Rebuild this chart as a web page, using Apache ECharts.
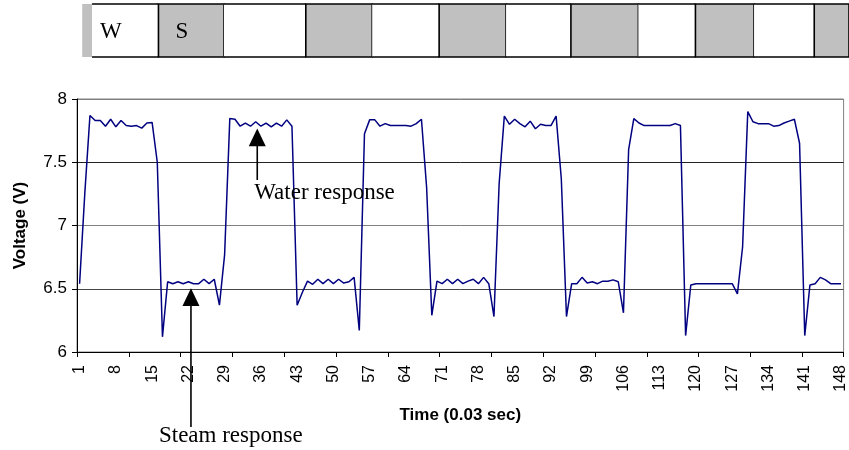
<!DOCTYPE html>
<html>
<head>
<meta charset="utf-8">
<script src="https://cdn.jsdelivr.net/npm/echarts@6/dist/echarts.min.js"></script>
<style>
html,body{margin:0;padding:0;background:#fff;}
#c{width:849px;height:450px;}
</style>
</head>
<body>
<div id="c"></div>
<script>
// ---- data ----
const categories = [];
for (let i = 1; i <= 148; i++) categories.push(String(i));

const voltage = [
  6.54, 7.25, 7.87, 7.83, 7.83, 7.785, 7.84, 7.78, 7.83, 7.79,
  7.785, 7.79, 7.77, 7.81, 7.815, 7.50, 6.12, 6.555, 6.54, 6.555,
  6.54, 6.555, 6.54, 6.54, 6.575, 6.54, 6.575, 6.37, 6.77, 7.845,
  7.84, 7.785, 7.81, 7.785, 7.82, 7.785, 7.81, 7.78, 7.81, 7.785,
  7.835, 7.785, 6.37, 6.47, 6.56, 6.535, 6.575, 6.54, 6.575, 6.54,
  6.575, 6.545, 6.555, 6.59, 6.17, 7.725, 7.835, 7.835, 7.785, 7.805,
  7.79, 7.79, 7.79, 7.79, 7.785, 7.805, 7.84, 7.30, 6.29, 6.56,
  6.54, 6.575, 6.54, 6.575, 6.54, 6.56, 6.575, 6.54, 6.59, 6.54,
  6.28, 7.33, 7.865, 7.80, 7.84, 7.805, 7.78, 7.825, 7.765, 7.80,
  7.79, 7.79, 7.865, 7.37, 6.28, 6.54, 6.54, 6.59, 6.545, 6.555,
  6.54, 6.56, 6.56, 6.57, 6.555, 6.31, 7.60, 7.845, 7.81, 7.79,
  7.79, 7.79, 7.79, 7.79, 7.79, 7.805, 7.79, 6.13, 6.53, 6.54,
  6.54, 6.54, 6.54, 6.54, 6.54, 6.54, 6.54, 6.46, 6.83, 7.90,
  7.82, 7.805, 7.805, 7.805, 7.785, 7.79, 7.81, 7.825, 7.84, 7.65,
  6.13, 6.53, 6.54, 6.59, 6.57, 6.54, 6.54, 6.54
];

const yTicks = { min: 6, max: 8, interval: 0.5 };

// top strip: W = water, S = steam (edges in time-sample units)
const stripEdges = [1.0, 2.9, 15.7, 28.3, 44.1, 56.9, 69.8, 82.7, 95.2, 108.2, 119.2, 130.5, 142.1, 148.8];
const stripStates = ['S','W','S','W','S','W','S','W','S','W','S','W','S'];
const stripLabels = ['', 'W', 'S', '', '', '', '', '', '', '', '', '', ''];

// annotations: [category position (0-based index), arrow tip value, head base value, shaft end value, text value]
const waterNote = { text: 'Water response', idx: 34.3, tip: 7.767, base: 7.627, end: 7.36, textV: 7.256 };
const steamNote = { text: 'Steam response', idx: 21.5, tip: 6.503, base: 6.363, end: 5.408, textV: 5.337 };

// ---- chart ----
const stripData = stripStates.map((s, i) => [stripEdges[i], stripEdges[i + 1], i]);

const chart = echarts.init(document.getElementById('c'), null, { renderer: 'canvas' });

const option = {
  animation: false,
  backgroundColor: '#fff',
  grid: [
    { left: 77, right: 4, top: 99, bottom: 98, show: true, borderColor: '#808080', borderWidth: 1, backgroundColor: 'transparent' },
    { left: 77, right: 0, top: 4, height: 53, show: false }
  ],
  xAxis: [
    {
      gridIndex: 0,
      type: 'category',
      data: categories,
      boundaryGap: true,
      name: 'Time (0.03 sec)',
      nameLocation: 'middle',
      nameGap: 55,
      nameTextStyle: { fontFamily: 'Liberation Sans', fontWeight: 'bold', fontSize: 17, color: '#000' },
      axisLine: { lineStyle: { color: '#000', width: 1 } },
      axisTick: { show: true, interval: 9, length: 5, lineStyle: { color: '#000' } },
      axisLabel: { interval: 6, rotate: 90, margin: 13, fontFamily: 'Liberation Sans', fontSize: 16, color: '#000' },
      splitLine: { show: false }
    },
    { gridIndex: 1, type: 'value', min: 0, max: 148.8, show: false }
  ],
  yAxis: [
    {
      gridIndex: 0,
      type: 'value',
      min: yTicks.min, max: yTicks.max, interval: yTicks.interval,
      name: 'Voltage (V)',
      nameLocation: 'middle',
      nameGap: 48,
      nameTextStyle: { fontFamily: 'Liberation Sans', fontWeight: 'bold', fontSize: 17, color: '#000' },
      axisLine: { show: true, lineStyle: { color: '#000', width: 1 } },
      axisTick: { show: true, length: 5, lineStyle: { color: '#000' } },
      axisLabel: { margin: 10, fontFamily: 'Liberation Sans', fontSize: 17, color: '#000' },
      splitLine: { show: true, lineStyle: { color: ['#000', '#444', '#808080', '#222', '#808080'], width: 1 } }
    },
    { gridIndex: 1, type: 'value', min: 0, max: 1, show: false }
  ],
  series: [
    {
      type: 'line',
      xAxisIndex: 0, yAxisIndex: 0,
      data: voltage,
      symbol: 'none',
      lineStyle: { color: '#000080', width: 1.5 },
      z: 5
    },
    {
      type: 'custom',
      xAxisIndex: 1, yAxisIndex: 1,
      data: stripData,
      renderItem: function (params, api) {
        const i = api.value(2);
        const p0 = api.coord([api.value(0), 1]);
        const p1 = api.coord([api.value(1), 0]);
        const x0 = p0[0], y0 = p0[1], x1 = p1[0], y1 = p1[1];
        const steam = stripStates[i] === 'S';
        const children = [{
          type: 'rect',
          shape: { x: x0, y: y0, width: x1 - x0, height: y1 - y0 },
          style: { fill: steam ? '#c0c0c0' : '#ffffff' }
        }];
        if (i > 0) {
          if (steam) {
            children.push({
              type: 'rect',
              shape: { x: x0, y: y0, width: x1 - x0, height: y1 - y0 },
              style: { fill: 'none', stroke: '#000', lineWidth: 1.6 }
            });
          } else {
            children.push({ type: 'line', shape: { x1: x0, y1: y0, x2: x1, y2: y0 }, style: { stroke: '#000', lineWidth: 1.6 } });
            children.push({ type: 'line', shape: { x1: x0, y1: y1, x2: x1, y2: y1 }, style: { stroke: '#000', lineWidth: 1.6 } });
          }
        }
        const lbl = stripLabels[i];
        if (lbl) {
          const off = lbl === 'W' ? 8 : 17;
          children.push({
            type: 'text',
            style: {
              text: lbl, x: x0 + off, y: (y0 + y1) / 2 + 1,
              font: '23px "Liberation Serif"', fill: '#000',
              align: 'left', verticalAlign: 'middle',
              textAlign: 'left', textVerticalAlign: 'middle'
            }
          });
        }
        return { type: 'group', children: children };
      }
    }
  ]
};

chart.setOption(option);

function px(idx, v) {
  const i0 = Math.floor(idx), f = idx - i0;
  const a = chart.convertToPixel({ gridIndex: 0 }, [i0, v]);
  const b = chart.convertToPixel({ gridIndex: 0 }, [i0 + 1, v]);
  return [a[0] + (b[0] - a[0]) * f, a[1]];
}

function arrow(note, textDx) {
  const tip = px(note.idx, note.tip);
  const base = px(note.idx, note.base);
  const end = px(note.idx, note.end);
  const tv = px(note.idx, note.textV);
  const x = tip[0];
  return [
    { type: 'line', z: 20, shape: { x1: x, y1: base[1] - 1, x2: x, y2: end[1] }, style: { stroke: '#000', lineWidth: 1.6 } },
    { type: 'polygon', z: 20, shape: { points: [[x, tip[1]], [x - 8.5, base[1]], [x + 8.5, base[1]]] }, style: { fill: '#000' } },
    {
      type: 'text', z: 20,
      style: {
        text: note.text, x: x + textDx, y: tv[1],
        font: '23px "Liberation Serif"', fill: '#000',
        align: 'left', verticalAlign: 'middle',
        textAlign: 'left', textVerticalAlign: 'middle'
      }
    }
  ];
}

chart.setOption({ graphic: arrow(waterNote, -3).concat(arrow(steamNote, -32)) });
</script>
</body>
</html>
